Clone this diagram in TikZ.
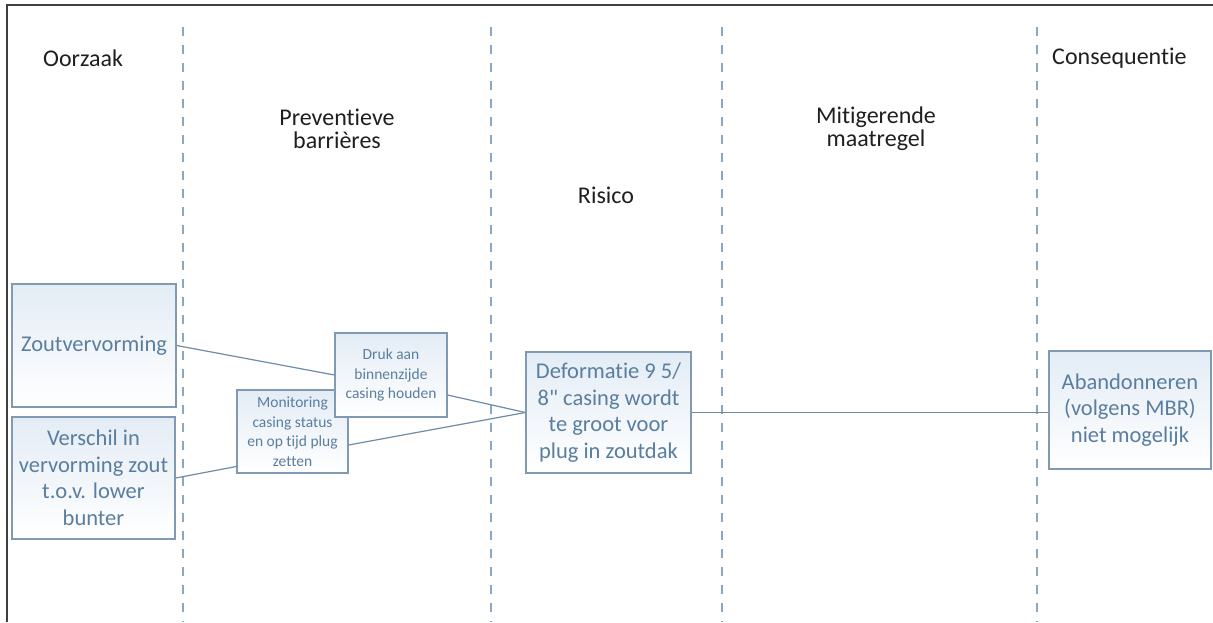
\documentclass[tikz,border=0pt]{standalone}
\usepackage{fontspec}
\setmainfont{Carlito}[Ligatures=NoCommon]
\definecolor{boxline}{HTML}{7F9AB2}
\definecolor{boxtext}{HTML}{5A7EA0}
\definecolor{boxtop}{HTML}{E3ECF5}
\definecolor{dashcol}{HTML}{8AA8C4}
\definecolor{conncol}{HTML}{6F8CA6}
\definecolor{framecol}{HTML}{404040}
\begin{document}
\begin{tikzpicture}[x=1pt,y=-1pt,
  bigbox/.style={draw=boxline, line width=1.2pt, top color=boxtop, bottom color=white,
    text=boxtext, align=center, font=\fontsize{22.5}{26.5}\selectfont, inner sep=0pt},
  smallbox/.style={bigbox, font=\fontsize{15.5}{19.5}\selectfont},
  header/.style={text=black!88, align=center, font=\fontsize{24}{23}\selectfont, inner sep=0pt},
  lane/.style={dashcol, line width=1.1pt, dash pattern=on 9pt off 9pt},
  conn/.style={conncol, line width=1.2pt}]
\useasboundingbox (0,0) rectangle (1213,622);
% frame
\draw[framecol, line width=2.5pt] (7,622) -- (7,5) -- (1213,5);
% lane dividers
\draw[lane] (183,27) -- (183,622);
\draw[lane] (491,27) -- (491,622);
\draw[lane] (722,27) -- (722,622);
\draw[lane] (1037,27) -- (1037,622);
% headers
\node[header, anchor=west] (h1) at (43,58) {Oorzaak};
\node[header] (h2) at (337,129) {Preventieve\\barrières};
\node[header] (h3) at (606,195) {Risico};
\node[header] (h4) at (876,129) {Mitigerende\\maatregel};
\node[header, anchor=west] (h5) at (1052,58) {Consequentie};
% boxes
\node[bigbox, minimum width=164pt, minimum height=123pt] (zout) at (94,345.5) {Zoutvervorming};
\node[bigbox, minimum width=163pt, minimum height=122pt] (versch) at (93.5,478) {Verschil in\\vervorming zout\\t.o.v. lower\\bunter};
\node[smallbox, minimum width=111pt, minimum height=83pt] (mon) at (292.5,431.5) {Monitoring\\casing status\\en op tijd plug\\zetten};
\node[smallbox, minimum width=112pt, minimum height=84pt] (druk) at (391,375) {Druk aan\\binnenzijde\\casing houden};
\node[bigbox, minimum width=165pt, minimum height=121pt] (defo) at (608.5,412.5) {Deformatie 9 5/\\8\textquotedbl{} casing wordt\\te groot voor\\plug in zoutdak};
\node[bigbox, minimum width=162pt, minimum height=118pt] (aband) at (1130,410) {Abandonneren\\(volgens MBR)\\niet mogelijk};
% connectors
\draw[conn] (zout.east) -- (druk.west);
\draw[conn] ([yshift=-20pt]druk.east) -- (defo.west);
\draw[conn] ([yshift=-13.5pt]mon.east) -- (defo.west);
\draw[conn] (versch.east) -- ([yshift=-35pt]mon.west);
\draw[conn] (defo.east) -- (defo.east -| aband.west);
\end{tikzpicture}
\end{document}
